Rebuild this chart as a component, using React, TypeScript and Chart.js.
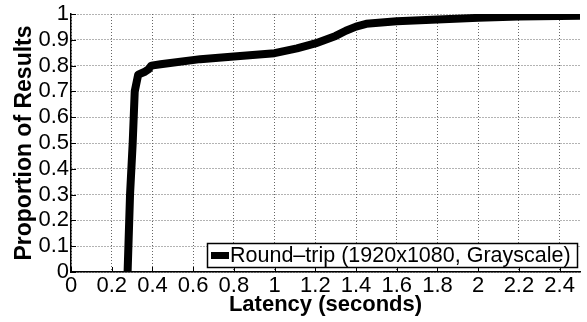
import React, { useEffect, useRef } from "react";
import { Chart, registerables } from "chart.js";

Chart.register(...registerables);

const latency = [0.278, 0.29, 0.303, 0.313, 0.33, 0.36, 0.38, 0.395, 0.44, 0.635, 0.8, 1.0, 1.11, 1.2, 1.3, 1.35, 1.4, 1.45, 1.6, 1.8, 2.0, 2.2, 2.5];
const proportion = [0, 0.3, 0.5, 0.7, 0.765, 0.775, 0.785, 0.8, 0.805, 0.825, 0.835, 0.848, 0.867, 0.886, 0.915, 0.935, 0.951, 0.962, 0.972, 0.979, 0.985, 0.99, 0.993];
const xTicks = [0, 0.2, 0.4, 0.6, 0.8, 1, 1.2, 1.4, 1.6, 1.8, 2, 2.2, 2.4];
const yTicks = [0, 0.1, 0.2, 0.3, 0.4, 0.5, 0.6, 0.7, 0.8, 0.9, 1];
const seriesLabel = "Round\u2013trip (1920x1080, Grayscale)";
const xTitle = "Latency (seconds)";
const yTitle = "Proportion of Results";

const FONT = "'Liberation Sans', Arial, Helvetica, sans-serif";

const decorPlugin = {
  id: "decor",
  afterDatasetsDraw(chart: any) {
    const { ctx, chartArea } = chart;
    const xs = chart.scales.x;
    const ys = chart.scales.y;
    ctx.save();
    ctx.strokeStyle = "#000";
    ctx.lineWidth = 1;
    xTicks.forEach((v) => {
      const px = Math.round(xs.getPixelForValue(v)) + 0.5;
      ctx.beginPath();
      ctx.moveTo(px, chartArea.bottom);
      ctx.lineTo(px, chartArea.bottom - 5);
      ctx.stroke();
    });
    yTicks.forEach((v) => {
      const py = Math.round(ys.getPixelForValue(v)) + 0.5;
      ctx.beginPath();
      ctx.moveTo(chartArea.left, py);
      ctx.lineTo(chartArea.left + 5, py);
      ctx.stroke();
    });
    const w = 370;
    const h = 24;
    const bx = chartArea.right - 3 - w;
    const by = chartArea.bottom - 5 - h;
    ctx.fillStyle = "#fff";
    ctx.fillRect(bx, by, w, h);
    ctx.strokeStyle = "#000";
    ctx.lineWidth = 1.5;
    ctx.strokeRect(bx + 0.5, by + 0.5, w, h);
    ctx.lineWidth = 7;
    ctx.beginPath();
    ctx.moveTo(bx + 4, by + h / 2 + 0.5);
    ctx.lineTo(bx + 22, by + h / 2 + 0.5);
    ctx.stroke();
    ctx.fillStyle = "#000";
    ctx.font = `21.5px ${FONT}`;
    ctx.textBaseline = "middle";
    ctx.textAlign = "left";
    ctx.fillText(seriesLabel, bx + 23, by + h / 2 + 1);
    ctx.restore();
  },
};

export default function App() {
  const ref = useRef<HTMLCanvasElement | null>(null);
  useEffect(() => {
    if (!ref.current) return;
    const data = latency.map((x, i) => ({ x, y: proportion[i] }));
    const chart = new Chart(ref.current, {
      type: "line",
      data: {
        datasets: [
          {
            label: seriesLabel,
            data,
            borderColor: "#000",
            backgroundColor: "#000",
            borderWidth: 8,
            pointRadius: 0,
            tension: 0,
            borderJoinStyle: "round",
            clip: 0,
          } as any,
        ],
      },
      options: {
        animation: false,
        responsive: true,
        maintainAspectRatio: false,
        layout: { padding: { left: 0, top: 14, right: 7, bottom: 0 } },
        plugins: { legend: { display: false }, tooltip: { enabled: false } },
        scales: {
          x: {
            type: "linear",
            min: 0,
            max: 2.5,
            afterBuildTicks: (s: any) => {
              s.ticks = xTicks.map((v) => ({ value: v }));
            },
            afterFit: (s: any) => {
              s.height = 50;
              s.paddingLeft = 0;
              s.paddingRight = 0;
              s.paddingTop = 0;
              s.paddingBottom = 0;
            },
            ticks: {
              color: "#000",
              font: { family: FONT, size: 22, lineHeight: 1.2 },
              padding: 1,
              maxRotation: 0,
              autoSkip: false,
              callback: (v: any) => String(v),
            },
            grid: {
              color: "#666",
              lineWidth: 1,
              drawTicks: false,
            },
            border: { display: true, color: "#000", width: 1.5, dash: [1, 2] },
            title: {
              display: true,
              text: xTitle,
              color: "#000",
              font: { family: FONT, size: 22, weight: "bold", lineHeight: 1 },
              padding: { top: 0, bottom: 6 },
            },
          },
          y: {
            type: "linear",
            min: 0,
            max: 1,
            afterBuildTicks: (s: any) => {
              s.ticks = yTicks.map((v) => ({ value: v }));
            },
            afterFit: (s: any) => {
              s.width = 71;
              s.paddingLeft = 0;
              s.paddingRight = 0;
              s.paddingTop = 0;
              s.paddingBottom = 0;
            },
            ticks: {
              color: "#000",
              font: { family: FONT, size: 22, lineHeight: 1.2 },
              padding: 2,
              autoSkip: false,
              callback: (v: any) => String(v),
            },
            grid: {
              color: "#666",
              lineWidth: 1,
              drawTicks: false,
            },
            border: { display: true, color: "#000", width: 1.5, dash: [1, 2] },
            title: {
              display: true,
              text: yTitle,
              color: "#000",
              font: { family: FONT, size: 23, weight: "bold", lineHeight: 1 },
              padding: { top: 13, bottom: 0 },
            },
          },
        },
      },
      plugins: [decorPlugin],
    } as any);
    return () => chart.destroy();
  }, []);
  return (
    <div style={{ position: "absolute", left: 0, top: 0, width: 587, height: 322, background: "#fff" }}>
      <canvas ref={ref} />
    </div>
  );
}
